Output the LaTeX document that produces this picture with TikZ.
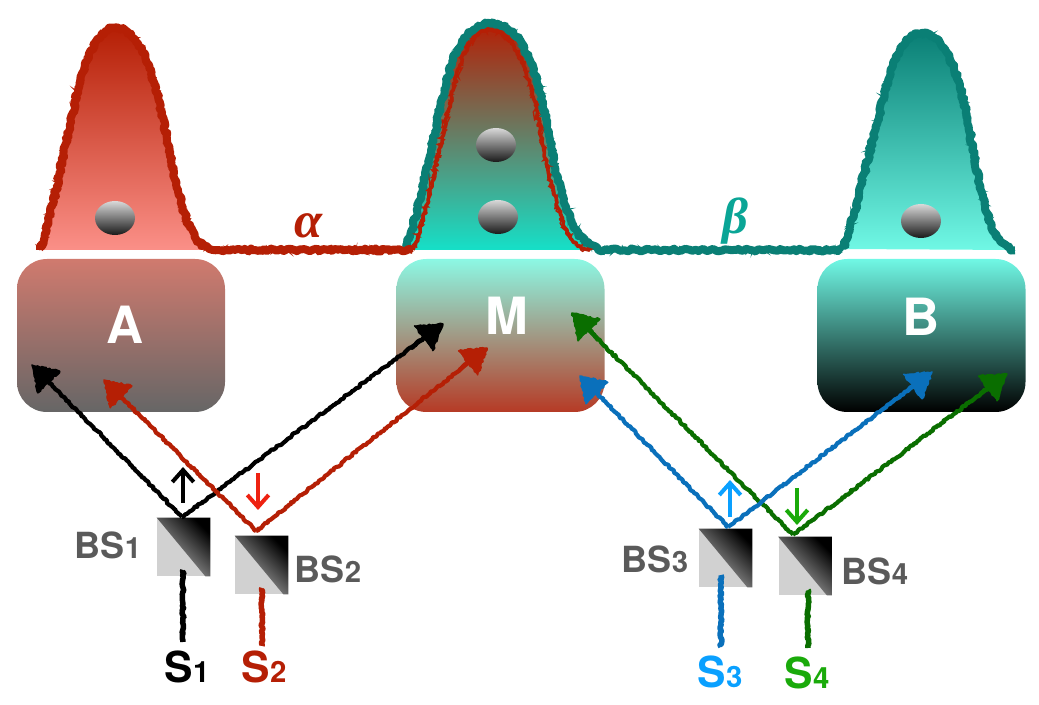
\documentclass[tikz,border=0pt]{standalone}
\usepackage{fontspec}
\setmainfont{TeX Gyre Heros}
\newfontfamily\greekfont{Liberation Serif}
\usetikzlibrary{calc,arrows.meta,decorations.pathmorphing,shapes.geometric}
\pgfmathsetseed{4711}
\definecolor{wellred}{HTML}{B51F05}
\definecolor{wellteal}{HTML}{0A7F75}
\definecolor{rayblue}{HTML}{0A70BB}
\definecolor{raygreen}{HTML}{0A6E00}
\definecolor{labelgrey}{HTML}{5A5A5A}
\definecolor{wellsalmon}{HTML}{FB9088}
\definecolor{wellaqua}{HTML}{15E0C8}
\definecolor{wellmint}{HTML}{70F8E5}
\definecolor{greekteal}{HTML}{0AA596}
\definecolor{trapAtop}{HTML}{D07A6E}
\definecolor{trapMtop}{HTML}{8CF8E4}
\definecolor{trapMbot}{HTML}{B63A25}
\definecolor{ptred}{HTML}{EE2211}
\definecolor{ptblue}{HTML}{0AA0FF}
\definecolor{ptgreen}{HTML}{1AAA0A}
\def\px{*0.75pt}
\tikzset{
  x=0.75pt, y=-0.75pt,
  roughline/.style={decorate, decoration={random steps, segment length=2\px, amplitude=1\px}, line join=round},
  wellline/.style={decorate, decoration={random steps, segment length=2.5\px, amplitude=1.5\px}, line join=round, line width=8\px, draw=#1},
  wellhaze/.style={decorate, decoration={random steps, segment length=2\px, amplitude=3.5\px}, line width=1.4\px, draw=#1},
  trap/.style={shade, rounded corners=30\px, minimum width=208\px, minimum height=153\px, inner sep=0pt},
  ball/.style={ellipse, minimum width=40\px, minimum height=34\px, inner sep=0pt, shade, top color=black!15, bottom color=black!90},
  cube/.style={rectangle, minimum width=53\px, minimum height=58\px, inner sep=0pt, fill=black!18},
  trapname/.style={text=white, font=\fontsize{38.5}{40}\selectfont\bfseries},
  bslabel/.style={anchor=base, inner sep=0pt, text=labelgrey, font=\fontsize{27}{30}\selectfont\bfseries},
  srclabel/.style={anchor=base, inner sep=0pt, font=\fontsize{32}{34}\selectfont\bfseries},
  greeklabel/.style={inner sep=0pt, font=\fontsize{38}{40}\selectfont\bfseries\itshape\greekfont},
  wire/.style={roughline, line width=5.5\px},
  pointer/.style={line width=3pt, -{Straight Barb[length=9pt,width=16pt,line width=3pt]}},
}
% one light path from a beam splitter into a trap: grainy shaft, head with a grainy rim
\newcommand{\lightray}[3]{%
  \draw[roughline, #3, line width=4.2\px] (#1) -- ($(#1)!0.93!(#2)$);
  \draw[#3, line width=4.2\px, -{Triangle[length=18pt,width=22pt]}] ($(#1)!0.88!(#2)$) -- (#2);
  \filldraw[roughline, #3, line width=1.5\px]
    (#2) -- ($(#2)!18pt!(#1)!11.5pt!90:(#1)$) -- ($(#2)!18pt!(#1)!11.5pt!-90:(#1)$) -- cycle;
}
\newcommand{\smalldigit}[1]{{\fontsize{22}{23}\selectfont #1}}
% bell outlines of the wells
\def\bellA{(40,250) .. controls (58,195) and (68,120) .. (85,65) .. controls (93,42) and (104,28) .. (115,28) .. controls (132,28) and (144,48) .. (155,85) .. controls (166,125) and (172,175) .. (183,208) .. controls (189,228) and (197,248) .. (215,250)}
\def\bellM{(413,250) .. controls (433,195) and (443,120) .. (460,65) .. controls (468,42) and (479,30) .. (490,30) .. controls (507,30) and (519,48) .. (530,85) .. controls (541,125) and (547,175) .. (558,208) .. controls (564,228) and (572,248) .. (590,250)}
\def\bellT{(405,250) .. controls (425,195) and (435,118) .. (452,62) .. controls (460,38) and (477,23) .. (489,23) .. controls (512,23) and (526,44) .. (537,82) .. controls (548,122) and (554,172) .. (565,205) .. controls (572,226) and (582,247) .. (604,250)}
\def\bellB{(843,249) .. controls (860,200) and (873,130) .. (892,68) .. controls (900,45) and (910,33) .. (922,33) .. controls (938,33) and (950,55) .. (960,85) .. controls (970,125) and (977,180) .. (987,213) .. controls (993,232) and (1002,248) .. (1015,250)}
\begin{document}
\begin{tikzpicture}
\useasboundingbox (0,0) rectangle (1039,705);

% potential wells: gradient bodies
\shade[top color=wellred, bottom color=wellsalmon] \bellA -- cycle;
\shade[top color=wellred, bottom color=wellaqua] \bellT -- cycle;
\shade[top color=wellteal, bottom color=wellmint] \bellB -- cycle;

% potential wells: grainy outlines
\draw[wellline=wellteal] \bellT -- (843,250);
\draw[wellhaze=wellteal] \bellT -- (843,250);
\draw[wellline=wellteal] \bellB;
\draw[wellhaze=wellteal] \bellB;
\draw[wellline=wellred] \bellA -- (413,250);
\draw[wellhaze=wellred] \bellA -- (413,250);
\draw[wellline=wellred, line width=3.5\px] \bellM;
\draw[wellhaze=wellred] \bellM;

\node[greeklabel, text=wellred] (alpha) at (309,226) {α};
\node[greeklabel, text=greekteal] (beta) at (735,221) {β};

% atoms
\node[ball] (atomA) at (115,218) {};
\node[ball] (atomM1) at (496,145) {};
\node[ball] (atomM2) at (498,217) {};
\node[ball] (atomB) at (921,221) {};

% traps
\node[trap, top color=trapAtop, bottom color=black!60] (A) at (121,335.5) {};
\node[trap, top color=trapMtop, bottom color=trapMbot] (M) at (500.5,335.5) {};
\node[trap, top color=wellmint, bottom color=black] (B) at (921.5,335.5) {};
\node[trapname] (nameA) at (125,325) {A};
\node[trapname] (nameM) at (507,316) {M};
\node[trapname] (nameB) at (921,317) {B};

% beam splitter cubes
\foreach \n/\x/\y in {BS1/183.5/547, BS2/261.5/565, BS3/725.5/558, BS4/805/566}{
  \node[cube] (\n) at (\x,\y) {};
  \shade[top color=black, bottom color=black!25, shading angle=-45]
    (\n.north west) -- (\n.north east) -- (\n.south east) -- ($(\n.south east)+(-5,0)$) -- cycle;
}

% arrival points inside the traps and departure points above the cubes
\coordinate (tipAblack) at (32,365);
\coordinate (tipMblack) at (443,324);
\coordinate (tipAred) at (104,380);
\coordinate (tipMred) at (487,348);
\coordinate (tipMgreen) at (572,313);
\coordinate (tipMblue) at (580,376);
\coordinate (tipBblue) at (932,372);
\coordinate (tipBgreen) at (1007,374);
\coordinate (out1) at (182,517);
\coordinate (out2) at (256,531);
\coordinate (out3) at (728,527);
\coordinate (out4) at (793,535);

\lightray{out1}{tipAblack}{black}
\lightray{out1}{tipMblack}{black}
\lightray{out2}{tipAred}{wellred}
\lightray{out2}{tipMred}{wellred}
\lightray{out4}{tipMgreen}{raygreen}
\lightray{out4}{tipBgreen}{raygreen}
\lightray{out3}{tipMblue}{rayblue}
\lightray{out3}{tipBblue}{rayblue}

% direction markers
\coordinate (up1a) at (183,503); \coordinate (up1b) at (183,467);
\coordinate (dn2a) at (258,473); \coordinate (dn2b) at (258,510);
\coordinate (up3a) at (730,517); \coordinate (up3b) at (730,480);
\coordinate (dn4a) at (797,488); \coordinate (dn4b) at (797,525);
\draw[pointer, black] (up1a) -- (up1b);
\draw[pointer, ptred] (dn2a) -- (dn2b);
\draw[pointer, ptblue] (up3a) -- (up3b);
\draw[pointer, ptgreen] (dn4a) -- (dn4b);

% cube labels
\node[bslabel] (lab1) at (108,559) {BS\smalldigit{1}};
\node[bslabel] (lab2) at (328,583) {BS\smalldigit{2}};
\node[bslabel] (lab3) at (655,572) {BS\smalldigit{3}};
\node[bslabel] (lab4) at (875,585) {BS\smalldigit{4}};

% sources and their feed lines
\node[srclabel, text=black] (S1) at (187,682) {S\smalldigit{1}};
\node[srclabel, text=wellred] (S2) at (264,682) {S\smalldigit{2}};
\node[srclabel, text=ptblue] (S3) at (720,687) {S\smalldigit{3}};
\node[srclabel, text=ptgreen] (S4) at (807,688) {S\smalldigit{4}};
\coordinate (feed1) at (183,642); \coordinate (into1) at (183,570);
\coordinate (feed2) at (262,646); \coordinate (into2) at (262,588);
\coordinate (feed3) at (721,647); \coordinate (into3) at (721,575);
\coordinate (feed4) at (808,648); \coordinate (into4) at (808,590);
\draw[wire, black] (feed1) -- (into1);
\draw[wire, wellred] (feed2) -- (into2);
\draw[wire, rayblue] (feed3) -- (into3);
\draw[wire, raygreen] (feed4) -- (into4);
\end{tikzpicture}
\end{document}
